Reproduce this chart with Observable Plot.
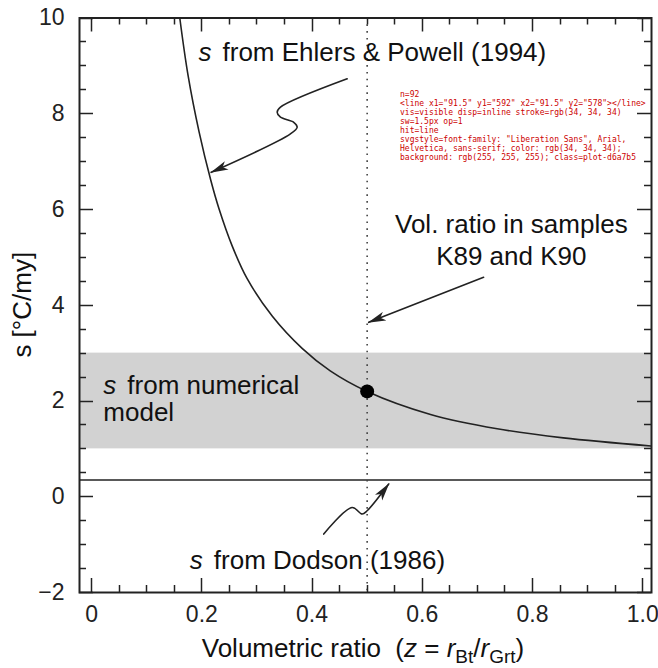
<!DOCTYPE html>
<html><head><meta charset="utf-8">
<script src="https://cdn.jsdelivr.net/npm/d3@7"></script>
<script src="https://cdn.jsdelivr.net/npm/@observablehq/plot@0.6"></script>
<style>body{margin:0;background:#fff} svg{display:block}</style>
</head><body><div id="chart"></div><script>
// ---- data ----
const curveZ = [0.160, 0.175, 0.195, 0.216, 0.231, 0.255, 0.282, 0.328, 0.382, 0.433, 0.500, 0.615, 0.736, 0.856, 1.016];
const curveS = [10.0, 8.80, 7.62, 6.62, 6.02, 5.24, 4.56, 3.77, 3.10, 2.63, 2.20, 1.72, 1.42, 1.23, 1.06];
const pointZ = [0.5];
const pointS = [2.2];
const bandLo = [1];
const bandHi = [3];
const dodsonS = [0.35];
const sampleZ = [0.5];

const xDomain = [-0.022, 1.016];
const yDomain = [-2, 10];
const xTickValues = [0, 0.2, 0.4, 0.6, 0.8, 1.0];
const xTickLabels = ["0", "0.2", "0.4", "0.6", "0.8", "1.0"];
const xMinorTicks = [0.05, 0.1, 0.15, 0.25, 0.3, 0.35, 0.45, 0.5, 0.55, 0.65, 0.7, 0.75, 0.85, 0.9, 0.95];
const yTickValues = [-2, 0, 2, 4, 6, 8, 10];
const yTickLabels = ["\u22122", "0", "2", "4", "6", "8", "10"];
const yMinorTicks = [-1.5, -1, -0.5, 0.5, 1, 1.5, 2.5, 3, 3.5, 4.5, 5, 5.5, 6.5, 7, 7.5, 8.5, 9, 9.5];

// annotation arrows (squiggly leader lines)
const arrowEhlersZ = [0.4637, 0.3427, 0.3367, 0.3427, 0.3668, 0.3730, 0.3608, 0.2170];
const arrowEhlersS = [8.729, 8.136, 8.031, 7.927, 7.822, 7.718, 7.580, 6.777];
const arrowSampleZ = [0.7113, 0.5028];
const arrowSampleS = [4.583, 3.643];
const arrowDodsonZ = [0.4212, 0.4727, 0.4909, 0.4999, 0.5391];
const arrowDodsonS = [-0.779, -0.224, -0.361, -0.293, 0.266];

// annotation texts
const sLabelZ = [0.194, 0.0212, 0.1782];
const sLabelS = [9.112, 2.146, -1.511];
const sLabelRest = ["from Ehlers & Powell (1994)", "from numerical", "from Dodson (1986)"];
const modelLabelZ = [0.0212];
const modelLabelS = [1.58];
const modelLabelText = ["model"];
const sampleLabelZ = [0.7616];
const sampleLabelS = [4.84];
const sampleLabelText = ["Vol. ratio in samples\nK89 and K90"];

// ---- build tables ----
const curve = curveZ.map((z, i) => ({z, s: curveS[i]}));
const points = pointZ.map((z, i) => ({z, s: pointS[i]}));
const bands = bandLo.map((lo, i) => ({lo, hi: bandHi[i]}));
const arrows = [
  ...arrowEhlersZ.map((z, i) => ({id: "ehlers", z, s: arrowEhlersS[i]})),
  ...arrowSampleZ.map((z, i) => ({id: "sample", z, s: arrowSampleS[i]})),
  ...arrowDodsonZ.map((z, i) => ({id: "dodson", z, s: arrowDodsonS[i]}))
];
const sLabels = sLabelZ.map((z, i) => ({z, s: sLabelS[i], rest: sLabelRest[i]}));
const modelLabels = modelLabelZ.map((z, i) => ({z, s: modelLabelS[i], text: modelLabelText[i]}));
const sampleLabels = sampleLabelZ.map((z, i) => ({z, s: sampleLabelS[i], text: sampleLabelText[i]}));

const W = 658, H = 668, mL = 79, mR = 7, mT = 17.5, mB = 76;
const innerW = W - mL - mR, innerH = H - mT - mB;
const majorLen = 14, minorLen = 7;
const ink = "#222";
const fontFamily = "'Liberation Sans', Arial, Helvetica, sans-serif";
const textSize = 26, tickFont = 23;

const plot = Plot.plot({
  width: W, height: H,
  marginLeft: mL, marginRight: mR, marginTop: mT, marginBottom: mB,
  x: {domain: xDomain},
  y: {domain: yDomain},
  style: {fontFamily, color: ink, background: "#fff"},
  marks: [
    Plot.rect(bands, {x1: () => xDomain[0], x2: () => xDomain[1], y1: "lo", y2: "hi", fill: "#d2d2d2"}),
    Plot.ruleY(dodsonS, {stroke: ink, strokeWidth: 1.5}),
    Plot.ruleX(sampleZ, {stroke: "#444", strokeWidth: 1.6, strokeDasharray: "1.6,5.2"}),
    Plot.line(curve, {x: "z", y: "s", stroke: ink, strokeWidth: 1.6, curve: "catmull-rom", clip: true}),
    Plot.dot(points, {x: "z", y: "s", r: 7, fill: "#000", stroke: "none"}),
    Plot.line(arrows, {x: "z", y: "s", z: "id", stroke: ink, strokeWidth: 1.6, curve: "catmull-rom", markerEnd: "arrow"}),
    Plot.axisX(xTickValues, {anchor: "bottom", tickSize: 0, tickPadding: 13, label: null, fontSize: tickFont,
      tickFormat: d => xTickLabels[xTickValues.indexOf(d)]}),
    Plot.axisY(yTickValues, {anchor: "left", tickSize: 0, tickPadding: 15, label: null, fontSize: tickFont,
      tickFormat: d => yTickLabels[yTickValues.indexOf(d)]}),
    Plot.frame({stroke: ink, strokeWidth: 2}),
    Plot.text(sLabels, {x: "z", y: "s", text: () => "s", fontStyle: "italic", textAnchor: "start", lineAnchor: "bottom", fontSize: textSize, fill: "#111"}),
    Plot.text(sLabels, {x: "z", y: "s", text: "rest", dx: 24, textAnchor: "start", lineAnchor: "bottom", fontSize: textSize, fill: "#111"}),
    Plot.text(modelLabels, {x: "z", y: "s", text: "text", textAnchor: "start", lineAnchor: "bottom", fontSize: textSize, fill: "#111"}),
    Plot.text(sampleLabels, {x: "z", y: "s", text: "text", textAnchor: "middle", lineAnchor: "bottom", lineHeight: 1.25, fontSize: textSize, fill: "#111"})
  ]
});

d3.select(plot).selectAll("marker").each(function() {
  const m = d3.select(this);
  m.attr("viewBox", "-17 -5 18 10").attr("markerWidth", 18).attr("markerHeight", 10)
   .attr("markerUnits", "userSpaceOnUse").attr("refX", 0).attr("refY", 0)
   .attr("fill", ink).attr("stroke", "none");
  m.selectAll("*").remove();
  m.append("path").attr("d", "M-17,-4.6L1,0L-17,4.6L-12.5,0Z");
});

const svg = d3.select(plot);
const xs = plot.scale("x"), ys = plot.scale("y");
const X0 = xs.apply(xDomain[0]), X1 = xs.apply(xDomain[1]);
const Y0 = ys.apply(yDomain[0]), Y1 = ys.apply(yDomain[1]);
const tg = svg.append("g").attr("class", "ticks").attr("stroke", ink).attr("stroke-width", 1.5).attr("fill", "none");
const seg = (x1, y1, x2, y2) => tg.append("line").attr("x1", x1).attr("y1", y1).attr("x2", x2).attr("y2", y2);
for (const [vals, len] of [[xTickValues, majorLen], [xMinorTicks, minorLen]]) {
  for (const v of vals) {
    const px = Math.round(xs.apply(v)) + 0.5;
    seg(px, Y0, px, Y0 - len);
    seg(px, Y1, px, Y1 + len);
  }
}
for (const [vals, len] of [[yTickValues, majorLen], [yMinorTicks, minorLen]]) {
  for (const v of vals) {
    const py = Math.round(ys.apply(v)) + 0.5;
    seg(X0, py, X0 + len, py);
    seg(X1, py, X1 - len, py);
  }
}

svg.append("text")
  .attr("transform", `translate(22,${mT + innerH / 2}) rotate(-90)`)
  .attr("text-anchor", "middle").attr("dy", "0.35em")
  .attr("font-size", textSize).attr("fill", "#111")
  .text("s [\u00b0C/my]");
const xl = svg.append("text").attr("x", mL + innerW / 2 - 2).attr("y", 657)
  .attr("text-anchor", "middle").attr("font-size", textSize).attr("fill", "#111")
  .style("white-space", "pre");
xl.append("tspan").text("Volumetric ratio  (");
xl.append("tspan").attr("font-style", "italic").text("z");
xl.append("tspan").text(" = ");
xl.append("tspan").attr("font-style", "italic").text("r");
xl.append("tspan").attr("font-size", 19).attr("dy", 6).text("Bt");
xl.append("tspan").attr("dy", -6).text("/");
xl.append("tspan").attr("font-style", "italic").text("r");
xl.append("tspan").attr("font-size", 19).attr("dy", 6).text("Grt");
xl.append("tspan").attr("dy", -6).text(")");

document.getElementById("chart").append(plot);

// temporary diagnostics
const first = plot.querySelector("g.ticks line");
const cs = first ? getComputedStyle(first) : null;
const hit = document.elementFromPoint(92, 586);
const info = [
  "n=" + plot.querySelectorAll("g.ticks line").length,
  first ? first.outerHTML : "none",
  cs ? ("vis=" + cs.visibility + " disp=" + cs.display + " stroke=" + cs.stroke + " sw=" + cs.strokeWidth + " op=" + cs.opacity) : "",
  "hit=" + (hit ? hit.tagName + " " + (hit.getAttribute("aria-label") || hit.getAttribute("class") || "") : "null"),
  "svgstyle=" + (plot.getAttribute("style") || "") + " class=" + plot.getAttribute("class")
].join("\n");
const p = document.createElement("pre");
p.style.cssText = "position:absolute;left:400px;top:90px;font-size:8px;white-space:pre-wrap;width:250px;color:#c00;margin:0";
p.textContent = info;
document.body.append(p);
</script></body></html>
